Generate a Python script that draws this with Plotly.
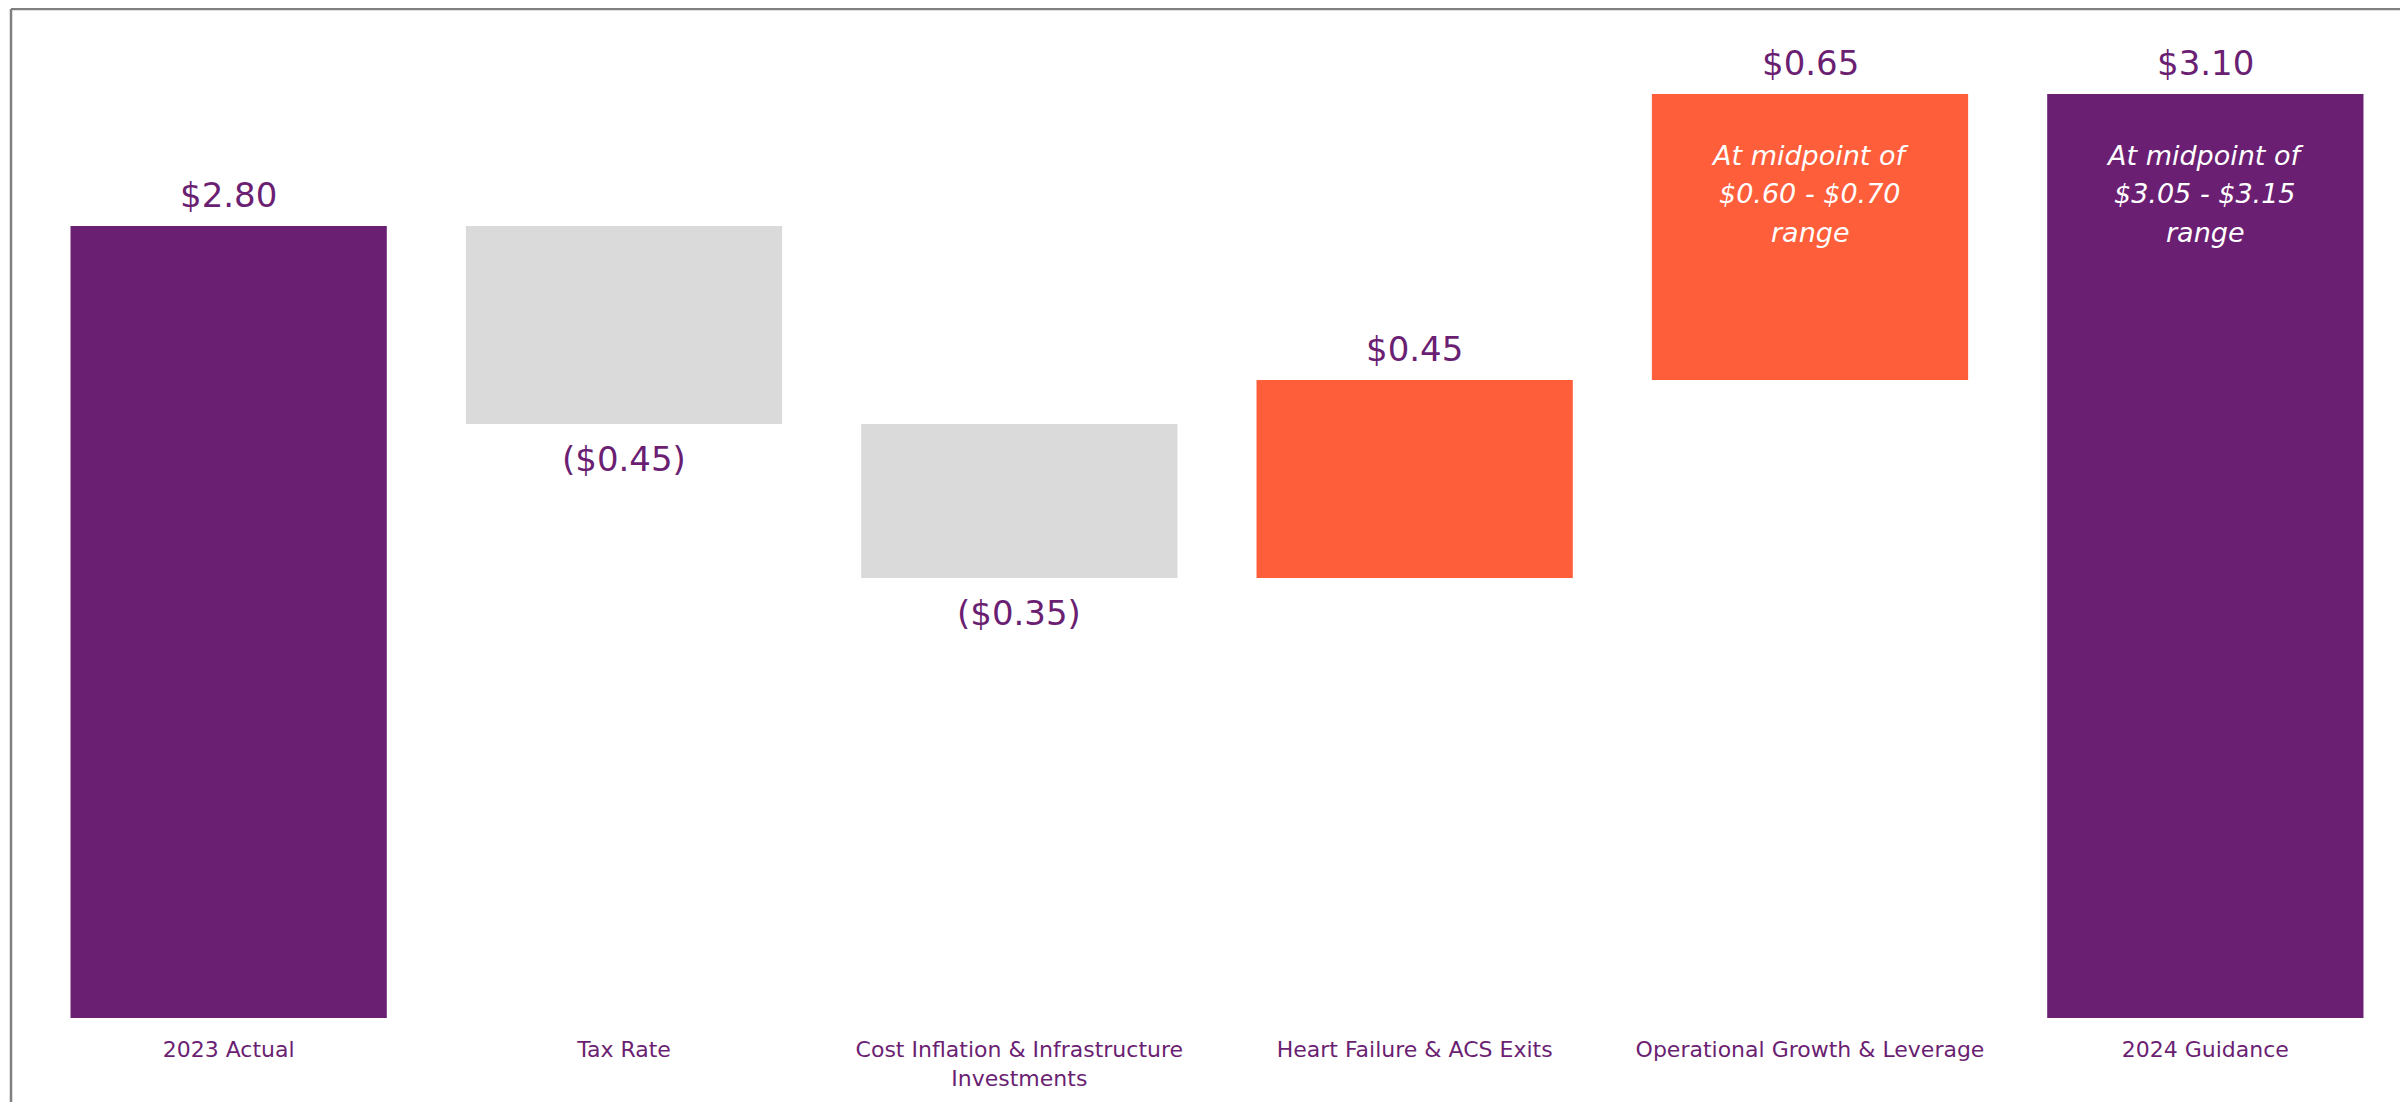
import numpy as np
import plotly.graph_objects as go

categories = ["2023 Actual", "Tax Rate", "Cost Inflation & Infrastructure<br>Investments",
              "Heart Failure & ACS Exits", "Operational Growth & Leverage", "2024 Guidance"]
values = [2.80, -0.45, -0.35, 0.45, 0.65, 3.10]
measures = ["absolute", "relative", "relative", "relative", "relative", "total"]
value_labels = ["$2.80", "($0.45)", "($0.35)", "$0.45", "$0.65", "$3.10"]
inner_labels = [[], [], [], [],
                ["At midpoint of", "$0.60 - $0.70", "range"],
                ["At midpoint of", "$3.05 - $3.15", "range"]]

PURPLE = "#6B1F73"
ORANGE = "#FF5E3A"
GRAY = "#DADADA"
FONT = "DejaVu Sans"

W, H = 2408, 1102
ML, MR, MT, MB = 23, 13, 13, 92
Y_MIN = 1.0
PX_PER_UNIT = 440.0
Y_MAX = Y_MIN + (H - MT - MB) / PX_PER_UNIT

# compute bar bottoms/tops from the data
tops, bottoms = [], []
level = 0.0
for v, m in zip(values, measures):
    if m == "absolute":
        bottoms.append(0.0); tops.append(v); level = v
    elif m == "total":
        bottoms.append(0.0); tops.append(level)
    else:
        new = level + v
        bottoms.append(min(level, new)); tops.append(max(level, new)); level = new

fig = go.Figure(go.Waterfall(
    x=categories, y=values, measure=measures,
    increasing=dict(marker=dict(color=ORANGE, line=dict(width=0))),
    decreasing=dict(marker=dict(color=GRAY, line=dict(width=0))),
    totals=dict(marker=dict(color=PURPLE, line=dict(width=0))),
    connector=dict(visible=False),
    hoverinfo="skip",
))

annotations = []
for i, (c, v, m) in enumerate(zip(categories, values, measures)):
    if m == "relative" and v < 0:
        annotations.append(dict(x=c, y=bottoms[i], xref="x", yref="y", text=value_labels[i],
                                showarrow=False, yanchor="middle", yshift=-35,
                                font=dict(family=FONT, size=34, color=PURPLE)))
    else:
        annotations.append(dict(x=c, y=tops[i], xref="x", yref="y", text=value_labels[i],
                                showarrow=False, yanchor="middle", yshift=31,
                                font=dict(family=FONT, size=34, color=PURPLE)))
    for j, line in enumerate(inner_labels[i]):
        annotations.append(dict(x=c, y=tops[i], xref="x", yref="y", text="<i>" + line + "</i>",
                                showarrow=False, yanchor="middle", yshift=-61 - 38.5 * j,
                                font=dict(family=FONT, size=27, color="white")))

pw = W - ML - MR
ph = H - MT - MB
frame_x = (3 - ML) / pw
frame_y = 1 + (MT - 1) / ph
shapes = [
    dict(type="line", xref="paper", yref="paper", x0=frame_x, x1=frame_x, y0=-0.2, y1=frame_y,
         line=dict(color="#808080", width=2.5)),
    dict(type="line", xref="paper", yref="paper", x0=frame_x, x1=1.1, y0=frame_y, y1=frame_y,
         line=dict(color="#808080", width=2.5)),
]

fig.update_layout(
    width=W, height=H,
    margin=dict(l=ML, r=MR, t=MT, b=MB),
    paper_bgcolor="white", plot_bgcolor="white",
    showlegend=False,
    waterfallgap=0.2,
    annotations=annotations,
    shapes=shapes,
    xaxis=dict(showgrid=False, zeroline=False, showline=False, ticks="",
               tickfont=dict(family=FONT, size=22, color=PURPLE), ticklabelstandoff=16),
    yaxis=dict(visible=False, range=[Y_MIN, Y_MAX], showgrid=False, zeroline=False),
)

fig.write_html("out.html")
